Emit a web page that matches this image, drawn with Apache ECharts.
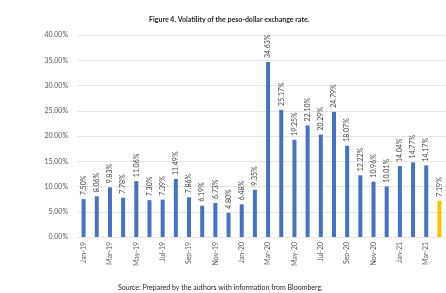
<!DOCTYPE html>
<html>
<head>
<meta charset="utf-8">
<script src="https://cdn.jsdelivr.net/npm/echarts@6/dist/echarts.min.js"></script>
<style>
  html, body { margin: 0; padding: 0; background: #fff; }
  #main { width: 446px; height: 293px; }
</style>
</head>
<body>
<div id="main"></div>
<script>
// months shown on the x axis
var months = [
  "Jan-19", "Feb-19", "Mar-19", "Apr-19", "May-19", "Jun-19", "Jul-19",
  "Aug-19", "Sep-19", "Oct-19", "Nov-19", "Dec-19", "Jan-20", "Feb-20",
  "Mar-20", "Apr-20", "May-20", "Jun-20", "Jul-20", "Aug-20", "Sep-20",
  "Oct-20", "Nov-20", "Dec-20", "Jan-21", "Feb-21", "Mar-21", "Apr-21"
];

// volatility in %
var volatility = [
  7.50, 8.06, 9.83, 7.78, 11.06, 7.30, 7.39,
  11.49, 7.86, 6.19, 6.73, 4.80, 6.48, 9.35,
  34.63, 25.17, 19.25, 22.10, 20.29, 24.79, 18.07,
  12.22, 10.96, 10.01, 14.04, 14.77, 14.17, 7.19
];

var titleText = "Figure 4. Volatility of the peso-dollar exchange rate.";
var sourceText = "Source: Prepared by the authors with information from Bloomberg.";

var myChart = echarts.init(document.getElementById("main"));

// last month highlighted in yellow
var barData = volatility.map(function (v, i) {
  return {
    value: v,
    itemStyle: { color: i === volatility.length - 1 ? "#FFC000" : "#4472C4" }
  };
});

var option = {
  animation: false,
  textStyle: { fontFamily: "Lato" },
  title: [
    {
      text: titleText,
      left: 144,
      top: 11,
      textStyle: { fontSize: 7, fontWeight: "bold", color: "#262626" }
    },
    {
      text: sourceText,
      left: 113,
      top: 279,
      textStyle: { fontSize: 7, fontWeight: "normal", color: "#262626" }
    }
  ],
  grid: { left: 77, right: -4, top: 35, bottom: 56 },
  xAxis: {
    type: "category",
    data: months,
    axisLine: { show: false },
    axisTick: { show: false },
    axisLabel: {
      interval: 1,
      rotate: 90,
      fontSize: 7,
      color: "#595959",
      margin: 5
    }
  },
  yAxis: {
    type: "value",
    min: 0,
    max: 40,
    interval: 5,
    axisLine: { show: false },
    axisTick: { show: false },
    splitLine: { lineStyle: { color: "#e6e6e6", width: 1 } },
    axisLabel: {
      fontSize: 7,
      color: "#595959",
      margin: 9,
      formatter: function (v) { return v.toFixed(2) + "%"; }
    }
  },
  series: [
    {
      type: "bar",
      data: barData,
      barWidth: 4,
      label: {
        show: true,
        position: "top",
        rotate: 90,
        align: "left",
        verticalAlign: "middle",
        distance: 4,
        fontSize: 7,
        color: "#404040",
        formatter: function (p) { return p.value.toFixed(2) + "%"; }
      }
    }
  ]
};

myChart.setOption(option);
</script>
</body>
</html>
